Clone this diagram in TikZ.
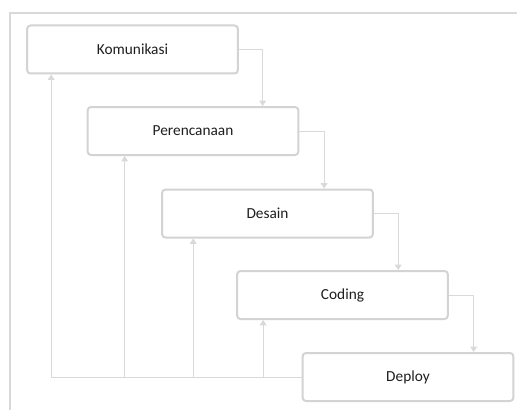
\documentclass[tikz,border=0pt]{standalone}
\usepackage{fontspec}
\setmainfont{Carlito}
\usetikzlibrary{arrows.meta, calc}
\definecolor{boxgray}{HTML}{D3D3D3}
\definecolor{linegray}{HTML}{D9D9D9}
\definecolor{textgray}{HTML}{1E1E1E}
\tikzset{
  phase/.style={draw=boxgray, line width=1.5pt, rounded corners=2.5pt, fill=white,
    minimum width=158pt, minimum height=36pt, inner sep=0pt,
    text=textgray, font=\fontsize{11.5}{13}\selectfont},
  flow/.style={draw=linegray, line width=0.75pt, -{Triangle[width=5pt, length=4pt]}},
  plain/.style={draw=linegray, line width=0.75pt}
}
\begin{document}
\begin{tikzpicture}[x=0.75pt, y=0.75pt, yscale=-1, xscale=1]
\useasboundingbox (0, 0) rectangle (517, 410);
%Frame
\draw [linegray, line width=1.2pt] (10, 410) -- (10, 13) -- (517, 13);
%Phases
\node [phase] (kom) at (132.5, 49.5) {Komunikasi};
\node [phase] (per) at (193, 131) {Perencanaan};
\node [phase] (des) at (267.5, 213.5) {Desain};
\node [phase] (cod) at (342.5, 295) {Coding};
\node [phase] (dep) at (408, 377) {Deploy};
%Forward flow
\draw [flow] (kom.east) -| ($(per.north west)+(176, 0)$);
\draw [flow] (per.east) -| ($(des.north west)+(163, 0)$);
\draw [flow] (des.east) -| ($(cod.north west)+(162, 0)$);
\draw [flow] (cod.east) -| ($(dep.north west)+(172, 0)$);
%Feedback
\coordinate (b1) at ($(kom.south west)+(25, 0)$);
\coordinate (b2) at ($(per.south west)+(38, 0)$);
\coordinate (b3) at ($(des.south west)+(32, 0)$);
\coordinate (b4) at ($(cod.south west)+(27, 0)$);
\draw [flow] (dep.west) -| (b1);
\draw [flow] (b2 |- dep.west) -- (b2);
\draw [flow] (b3 |- dep.west) -- (b3);
\draw [flow] (b4 |- dep.west) -- (b4);
\end{tikzpicture}
\end{document}
